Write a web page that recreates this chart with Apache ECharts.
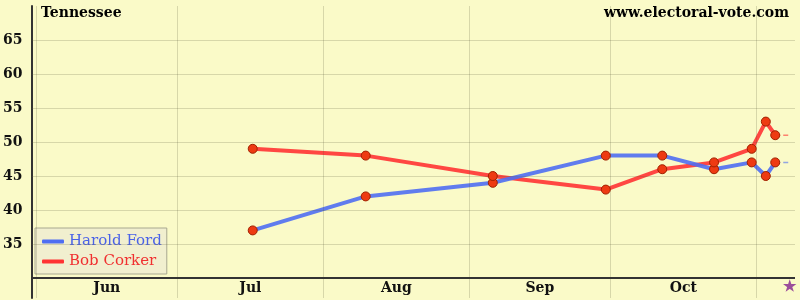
<!DOCTYPE html>
<html><head><meta charset="utf-8">
<script src="https://cdn.jsdelivr.net/npm/echarts@6/dist/echarts.min.js"></script>
<style>html,body{margin:0;padding:0;background:#fafac8}#c{width:800px;height:300px}</style>
</head><body><div id="c"></div>
<script>
// Days counted from June 1, 2006 (day 0)
const pollDays = [46, 70, 97, 121, 133, 144, 152, 155, 157];
const fordValues = [37, 42, 44, 48, 48, 46, 47, 45, 47];
const corkerValues = [49, 48, 45, 43, 46, 47, 49, 53, 51];
const projectionEndDay = 160;
const monthStartDays = [0, 30, 61, 92, 122, 153];
const monthLabelDays = [15, 45.5, 76.5, 107, 137.5];
const monthLabels = ['Jun', 'Jul', 'Aug', 'Sep', 'Oct'];
const electionDay = 160;
const yTicks = [35, 40, 45, 50, 55, 60, 65];
const yBase = 30;

const FONT = 'DejaVu Serif';
const BLUE = '#4f6ef2';
const RED = '#ff3333';

const ford = pollDays.map((d, i) => [d, fordValues[i]]);
const corker = pollDays.map((d, i) => [d, corkerValues[i]]);
const lastDay = pollDays[pollDays.length - 1];

const marker = { color: '#ee3a12', borderColor: '#a02000', borderWidth: 1, opacity: 1 };

const chart = echarts.init(document.getElementById('c'), null, { renderer: 'canvas' });
chart.setOption({
  backgroundColor: '#fafac8',
  animation: false,
  title: [
    { text: 'Tennessee', left: 36, top: 1, textStyle: { fontFamily: FONT, fontSize: 14, fontWeight: 'bold', color: '#000' } },
    { text: 'www.electoral-vote.com', right: 6, top: 1, textStyle: { fontFamily: FONT, fontSize: 14, fontWeight: 'bold', color: '#000' } }
  ],
  grid: { left: 29, right: 5, top: 6, bottom: 2, containLabel: false },
  legend: {
    orient: 'vertical', left: 35, top: 228,
    backgroundColor: '#f1efcf', borderColor: '#a8a890', borderWidth: 1,
    padding: [6, 5, 5, 7], itemGap: 5,
    icon: 'roundRect', itemWidth: 22, itemHeight: 4,
    textStyle: { fontFamily: FONT, fontSize: 15 },
    data: [
      { name: 'Harold Ford', textStyle: { color: '#4a62e8' } },
      { name: 'Bob Corker', textStyle: { color: '#f03030' } }
    ]
  },
  xAxis: {
    type: 'value', min: -1, max: 161.2,
    axisLine: { show: false }, axisTick: { show: false }, splitLine: { show: false },
    axisLabel: {
      inside: true, margin: 3,
      customValues: monthLabelDays.concat([electionDay]),
      fontFamily: FONT, fontSize: 14, fontWeight: 'bold', color: '#111',
      formatter: v => {
        const i = monthLabelDays.indexOf(v);
        return i >= 0 ? monthLabels[i] : '{s|★}';
      },
      rich: { s: { color: '#9b4e9b', fontSize: 15, fontFamily: FONT } }
    }
  },
  yAxis: {
    type: 'value', min: 27.06, max: 70,
    axisLine: { show: true, onZero: false, lineStyle: { color: '#333', width: 2 } },
    axisTick: { show: false }, splitLine: { show: false },
    axisLabel: { customValues: yTicks, margin: 9, fontFamily: FONT, fontSize: 14, fontWeight: 'bold', color: '#111' }
  },
  series: [
    {
      type: 'line', name: '_grid', data: [], silent: true,
      markLine: {
        silent: true, symbol: 'none', label: { show: false },
        lineStyle: { color: 'rgba(90,90,60,0.22)', width: 1, type: 'solid' },
        data: monthStartDays.map(d => ({ xAxis: d })).concat(yTicks.map(v => ({ yAxis: v })))
      }
    },
    {
      type: 'line', name: '_axis', data: [], silent: true,
      markLine: {
        silent: true, symbol: 'none', label: { show: false },
        lineStyle: { color: '#333', width: 2, type: 'solid' },
        data: [{ yAxis: yBase }]
      }
    },
    {
      type: 'line', name: 'Bob Corker', data: corker, z: 3,
      lineStyle: { color: RED, width: 4, opacity: 0.9 }, itemStyle: { color: RED },
      symbol: 'none', showSymbol: false
    },
    {
      type: 'line', name: 'Harold Ford', data: ford, z: 4,
      lineStyle: { color: BLUE, width: 4, opacity: 0.9 }, itemStyle: { color: BLUE },
      symbol: 'none', showSymbol: false
    },
    {
      type: 'line', name: '_fordProj', data: [[lastDay, fordValues[fordValues.length - 1]], [projectionEndDay, fordValues[fordValues.length - 1]]],
      showSymbol: false, symbol: 'none', silent: true,
      lineStyle: { color: BLUE, width: 1.5, opacity: 0.6, type: [5, 3] }
    },
    {
      type: 'line', name: '_corkerProj', data: [[lastDay, corkerValues[corkerValues.length - 1]], [projectionEndDay, corkerValues[corkerValues.length - 1]]],
      showSymbol: false, symbol: 'none', silent: true,
      lineStyle: { color: RED, width: 1.5, opacity: 0.6, type: [5, 3] }
    },
    {
      type: 'scatter', name: '_fordPts', data: ford, z: 6, silent: true,
      symbol: 'circle', symbolSize: 9, itemStyle: marker
    },
    {
      type: 'scatter', name: '_corkerPts', data: corker, z: 6, silent: true,
      symbol: 'circle', symbolSize: 9, itemStyle: marker
    }
  ]
});
</script>
</body></html>
